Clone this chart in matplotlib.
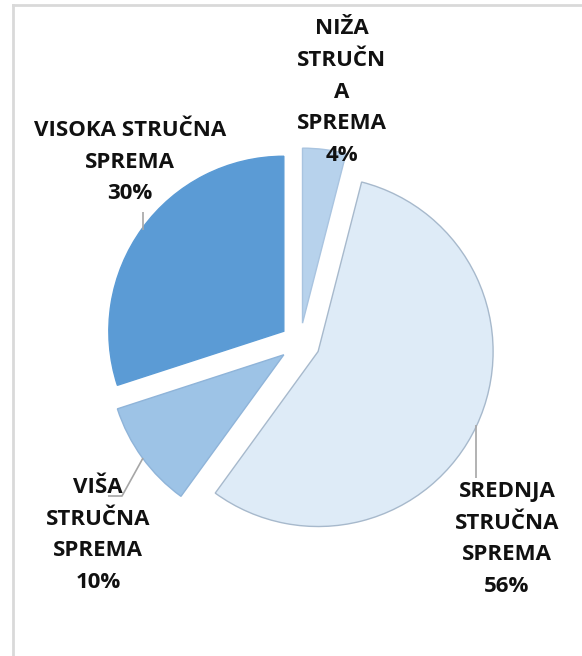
import matplotlib.pyplot as plt
from matplotlib.lines import Line2D

categories = ['NIŽA\nSTRUČN\nA\nSPREMA', 'SREDNJA\nSTRUČNA\nSPREMA',
              'VIŠA\nSTRUČNA\nSPREMA', 'VISOKA STRUČNA\nSPREMA']
shares = [4, 56, 10, 30]
colors = ['#b7d2ec', '#deebf7', '#9dc3e6', '#5b9bd5']
edges = ['#a9c4e0', '#a7b9cc', '#8fb4d9', '#5b9bd5']

W, H = 582, 656
# label centres in pixel coords (x, y from top)
label_pos = [(342, 92), (507, 539), (98, 535), (130, 162)]
# leader lines in pixel coords
leaders = [None,
           [(476, 425), (476, 478)],
           [(143, 458), (122, 496), (108, 496)],
           [(143, 212), (143, 230)]]

fig = plt.figure(figsize=(W / 100, H / 100), dpi=100)
ax = fig.add_axes([0, 0, 1, 1])

wedges, _ = ax.pie(shares, startangle=90, counterclock=False,
                   radius=175, center=(300, H - 343),
                   explode=[20, 20, 20, 20], colors=colors,
                   wedgeprops=dict(linewidth=1.0))
for w, ec in zip(wedges, edges):
    w.set_edgecolor(ec)

ax.set_xlim(0, W)
ax.set_ylim(0, H)
ax.set_aspect('equal')
ax.axis('off')

for cat, val, (x, y) in zip(categories, shares, label_pos):
    ax.text(x, H - y, f'{cat}\n{val}%', ha='center', va='center',
            fontsize=16, fontweight='bold', family='Open Sans',
            linespacing=1.66, color='#111111')

for pts in leaders:
    if pts:
        ax.plot([p[0] for p in pts], [H - p[1] for p in pts],
                color='#a6a6a6', lw=1.2, solid_capstyle='butt')

# outer frame (only left and top visible)
fig.add_artist(Line2D([13 / W, 13 / W], [0, 1 - 5 / H], transform=fig.transFigure,
                      color='#d9d9d9', lw=2))
fig.add_artist(Line2D([13 / W, 1], [1 - 5 / H, 1 - 5 / H], transform=fig.transFigure,
                      color='#d9d9d9', lw=2))

fig.savefig('out.png', dpi=100)
